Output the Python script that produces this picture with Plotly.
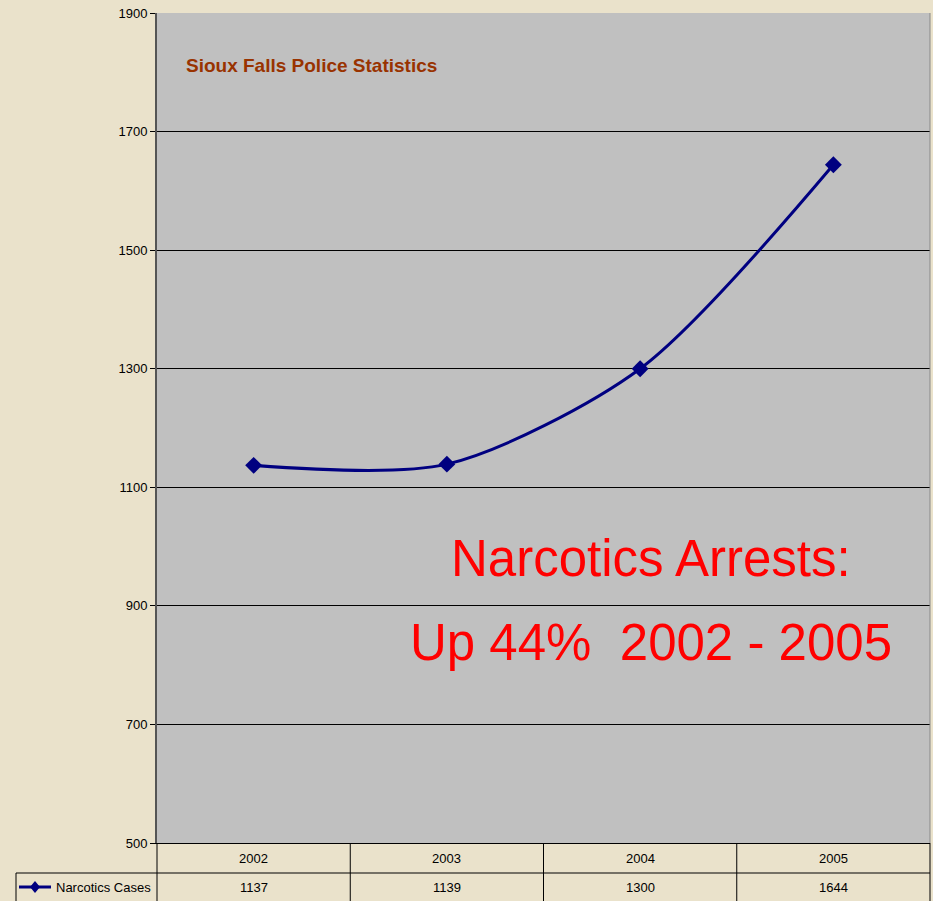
import plotly.graph_objects as go

years = ["2002", "2003", "2004", "2005"]
cases = [1137, 1139, 1300, 1644]
y_ticks = [500, 700, 900, 1100, 1300, 1500, 1700, 1900]
series_name = "Narcotics Cases"
chart_title = "Sioux Falls Police Statistics"
callout_lines = ["Narcotics Arrests:", "Up 44%  2002 - 2005"]

FONT = "Liberation Sans, Arial, sans-serif"
W, H = 933, 901
L, R, T, B = 157, 3, 13, 58
pw = W - L - R
ph = H - T - B

def px_x(p):
    return (p - L) / pw

def px_y(p):
    return (H - B - p) / ph

fig = go.Figure()
fig.add_trace(go.Scatter(
    x=list(range(len(years))), y=cases, mode="lines+markers",
    line=dict(color="#000080", width=3, shape="spline", smoothing=0.8),
    marker=dict(symbol="diamond", size=13, color="#000080"),
    name=series_name, showlegend=False, hoverinfo="skip"))

shapes = []
row1_top, row_mid, row_bot = px_y(843), px_y(873), px_y(903)
shapes.append(dict(type="line", xref="paper", yref="paper", x0=0, x1=1, y0=row_mid, y1=row_mid,
                   line=dict(color="black", width=1)))
shapes.append(dict(type="line", xref="paper", yref="paper", x0=px_x(16), x1=0, y0=row_mid, y1=row_mid,
                   line=dict(color="black", width=1)))
shapes.append(dict(type="line", xref="paper", yref="paper", x0=px_x(16), x1=px_x(16), y0=row_mid, y1=row_bot,
                   line=dict(color="black", width=1)))
for i in range(len(years) + 1):
    xv = i / len(years)
    shapes.append(dict(type="line", xref="paper", yref="paper", x0=xv, x1=xv, y0=row1_top, y1=row_bot,
                       line=dict(color="black", width=1)))
ky = px_y(887)
shapes.append(dict(type="line", xref="paper", yref="paper", x0=px_x(19), x1=px_x(51), y0=ky, y1=ky,
                   line=dict(color="#000080", width=3)))
cx, dx, dy = px_x(35), 5 / pw, 6 / ph
shapes.append(dict(type="path", xref="paper", yref="paper",
                   path=f"M {cx-dx},{ky} L {cx},{ky+dy} L {cx+dx},{ky} L {cx},{ky-dy} Z",
                   fillcolor="#000080", line=dict(color="#000080", width=0)))

ann = []
for i, (yr, v) in enumerate(zip(years, cases)):
    ann.append(dict(x=i, xref="x", y=px_y(858), yref="paper", text=yr, showarrow=False,
                    xanchor="center", yanchor="middle",
                    font=dict(family=FONT, size=13, color="black")))
    ann.append(dict(x=i, xref="x", y=px_y(887), yref="paper", text=str(v), showarrow=False,
                    xanchor="center", yanchor="middle",
                    font=dict(family=FONT, size=13, color="black")))
ann.append(dict(x=px_x(153), xref="paper", y=px_y(887), yref="paper", text=series_name,
                showarrow=False, xanchor="right", yanchor="middle",
                font=dict(family=FONT, size=13, color="black")))
ann.append(dict(x=px_x(184), xref="paper", y=px_y(66), yref="paper", text="<b>" + chart_title + "</b>",
                showarrow=False, xanchor="left", yanchor="middle",
                font=dict(family=FONT, size=19, color="#993300")))
ann.append(dict(x=px_x(651), xref="paper", y=px_y(558), yref="paper", text=callout_lines[0],
                showarrow=False, xanchor="center", yanchor="middle",
                font=dict(family=FONT, size=51, color="#FF0000")))
ann.append(dict(x=px_x(651), xref="paper", y=px_y(642), yref="paper", text=callout_lines[1],
                showarrow=False, xanchor="center", yanchor="middle",
                font=dict(family=FONT, size=51, color="#FF0000")))

fig.update_layout(
    width=W, height=H, margin=dict(l=L, r=R, t=T, b=B, pad=0),
    paper_bgcolor="#EAE2CB", plot_bgcolor="#C0C0C0",
    shapes=shapes, annotations=ann,
    xaxis=dict(range=[-0.5, len(years) - 0.5], showticklabels=False, showgrid=False,
               zeroline=False, showline=True, linecolor="black", linewidth=1,
               fixedrange=True),
    yaxis=dict(range=[500, 1900], tickvals=y_ticks, ticktext=[str(t) for t in y_ticks],
               showgrid=True, gridcolor="black", gridwidth=1, zeroline=False,
               showline=True, linecolor="#555555", linewidth=2, ticks="outside", ticklen=5,
               tickcolor="black", tickfont=dict(family=FONT, size=13, color="black"),
               fixedrange=True),
)
fig.add_shape(type="line", xref="paper", yref="paper", x0=1, x1=1, y0=0, y1=1,
              line=dict(color="#888888", width=1))
fig.write_html("out.html", config={"displayModeBar": False},
               post_script="document.body.style.margin='0';document.body.style.background='#EAE2CB';")
